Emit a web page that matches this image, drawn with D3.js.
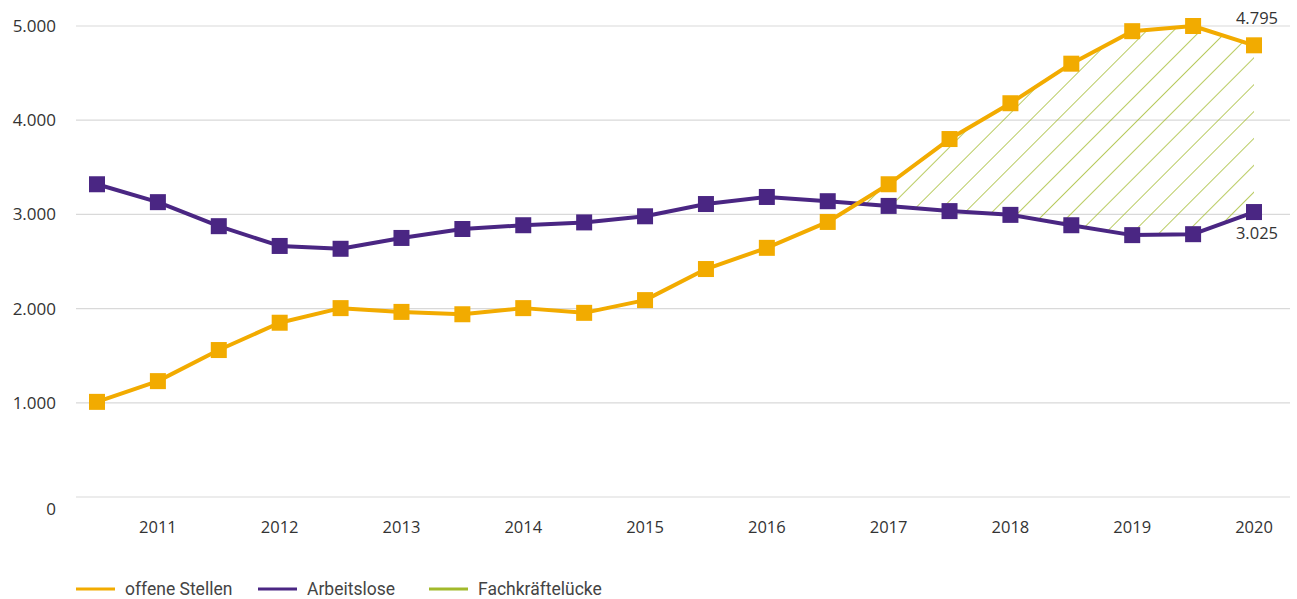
<!DOCTYPE html>
<html lang="de">
<head>
<meta charset="utf-8">
<title>Offene Stellen, Arbeitslose, Fachkräftelücke</title>
<style>
  body { margin: 0; background: #fff; }
  text { font-family: "Open Sans", sans-serif; fill: #333; }
  .legend text { font-family: Roboto, "Noto Sans", sans-serif; fill: #444; }
</style>
</head>
<body>
<svg width="1297" height="599"></svg>
<script src="https://d3js.org/d3.v7.min.js"></script>
<script>
// half-year points, year label sits on every second point
var periods = ["2010-2","2011","2011-2","2012","2012-2","2013","2013-2","2014","2014-2","2015",
               "2015-2","2016","2016-2","2017","2017-2","2018","2018-2","2019","2019-2","2020"];
var yearLabels = ["2011","2012","2013","2014","2015","2016","2017","2018","2019","2020"];
var offeneStellen = [1010,1230,1560,1850,2005,1965,1940,2005,1955,2090,
                     2420,2645,2920,3320,3800,4180,4600,4945,5000,4795];
var arbeitslose = [3320,3130,2875,2665,2635,2750,2845,2885,2915,2980,
                   3110,3185,3140,3090,3035,2995,2885,2780,2790,3025];
var yTicks = [0,1000,2000,3000,4000,5000];
var legendItems = [
  {name: "offene Stellen", color: "#f2ab00"},
  {name: "Arbeitslose", color: "#4a2683"},
  {name: "Fachkräftelücke", color: "#a2b92b"}
];

var svg = d3.select("svg");
var de = d3.formatLocale({decimal: ",", thousands: ".", grouping: [3], currency: ["", " €"]});
var fmt = de.format(",d");

var x = d3.scalePoint().domain(periods).range([97, 1254]);
var y = d3.scaleLinear().domain([0, 5000]).range([497, 26]);

// gridlines
svg.append("g").selectAll("line")
  .data(yTicks).enter().append("line")
    .attr("x1", 76).attr("x2", 1290)
    .attr("y1", function(d) { return y(d); })
    .attr("y2", function(d) { return y(d); })
    .attr("stroke", "#d9d9d9").attr("stroke-width", 1.2);

// y labels (the 0 sits a little below its line)
svg.append("g").selectAll("text")
  .data(yTicks).enter().append("text")
    .attr("x", 56)
    .attr("y", function(d) { return d === 0 ? y(d) + 12 : y(d); })
    .attr("dy", "0.35em")
    .attr("text-anchor", "end")
    .style("font-size", "17px")
    .text(function(d) { return fmt(d); });

// x labels
svg.append("g").selectAll("text")
  .data(yearLabels).enter().append("text")
    .attr("x", function(d) { return x(d); })
    .attr("y", 527).attr("dy", "0.35em")
    .attr("text-anchor", "middle")
    .style("font-size", "16.5px")
    .text(function(d) { return d; });

// hatch pattern
svg.append("defs").append("pattern")
    .attr("id", "hatch")
    .attr("patternUnits", "userSpaceOnUse")
    .attr("width", 19).attr("height", 19)
    .attr("patternTransform", "translate(-5.6,0) rotate(45)")
  .append("line")
    .attr("x1", 0).attr("y1", 0).attr("x2", 0).attr("y2", 19)
    .attr("stroke", legendItems[2].color).attr("stroke-width", 1.5);

// gap area: from the crossing point onwards
var gap = [];
for (var i = 1; i < periods.length; i++) {
  var d0 = offeneStellen[i-1] - arbeitslose[i-1], d1 = offeneStellen[i] - arbeitslose[i];
  if (d0 < 0 && d1 >= 0) {
    var t = -d0 / (d1 - d0);
    var px = x(periods[i-1]) + t * (x(periods[i]) - x(periods[i-1]));
    var pv = arbeitslose[i-1] + t * (arbeitslose[i] - arbeitslose[i-1]);
    gap.push({x: px, lo: pv, hi: pv});
  }
  if (d1 >= 0 && gap.length) gap.push({x: x(periods[i]), lo: arbeitslose[i], hi: offeneStellen[i]});
}
svg.append("path")
  .datum(gap)
  .attr("fill", "url(#hatch)")
  .attr("d", d3.area()
    .x(function(d) { return d.x; })
    .y0(function(d) { return y(d.lo); })
    .y1(function(d) { return y(d.hi); }));

function drawSeries(values, color) {
  var line = d3.line()
    .x(function(d, i) { return x(periods[i]); })
    .y(function(d) { return y(d); });
  svg.append("path").datum(values)
    .attr("fill", "none").attr("stroke", color)
    .attr("stroke-width", 4).attr("stroke-linejoin", "round")
    .attr("d", line);
  svg.append("g").selectAll("rect")
    .data(values).enter().append("rect")
      .attr("x", function(d, i) { return x(periods[i]) - 8; })
      .attr("y", function(d) { return y(d) - 8; })
      .attr("width", 16).attr("height", 16)
      .attr("fill", color);
}
drawSeries(arbeitslose, legendItems[1].color);
drawSeries(offeneStellen, legendItems[0].color);

// end value labels
svg.append("text")
  .attr("x", 1278).attr("y", 18).attr("dy", "0.35em")
  .attr("text-anchor", "end").style("font-size", "16.5px")
  .text(fmt(offeneStellen[offeneStellen.length-1]));
svg.append("text")
  .attr("x", 1278).attr("y", 233).attr("dy", "0.35em")
  .attr("text-anchor", "end").style("font-size", "16.5px")
  .text(fmt(arbeitslose[arbeitslose.length-1]));

// legend
var legendX = [76, 258, 429];
var lg = svg.append("g").attr("class", "legend")
  .selectAll("g").data(legendItems).enter().append("g")
    .attr("transform", function(d, i) { return "translate(" + legendX[i] + ",589)"; });
lg.append("line")
  .attr("x1", 0).attr("x2", 39).attr("y1", 0).attr("y2", 0)
  .attr("stroke", function(d) { return d.color; }).attr("stroke-width", 3);
lg.append("text")
  .attr("x", 49).attr("dy", "0.35em")
  .style("font-size", "17.5px")
  .text(function(d) { return d.name; });
</script>
</body>
</html>
